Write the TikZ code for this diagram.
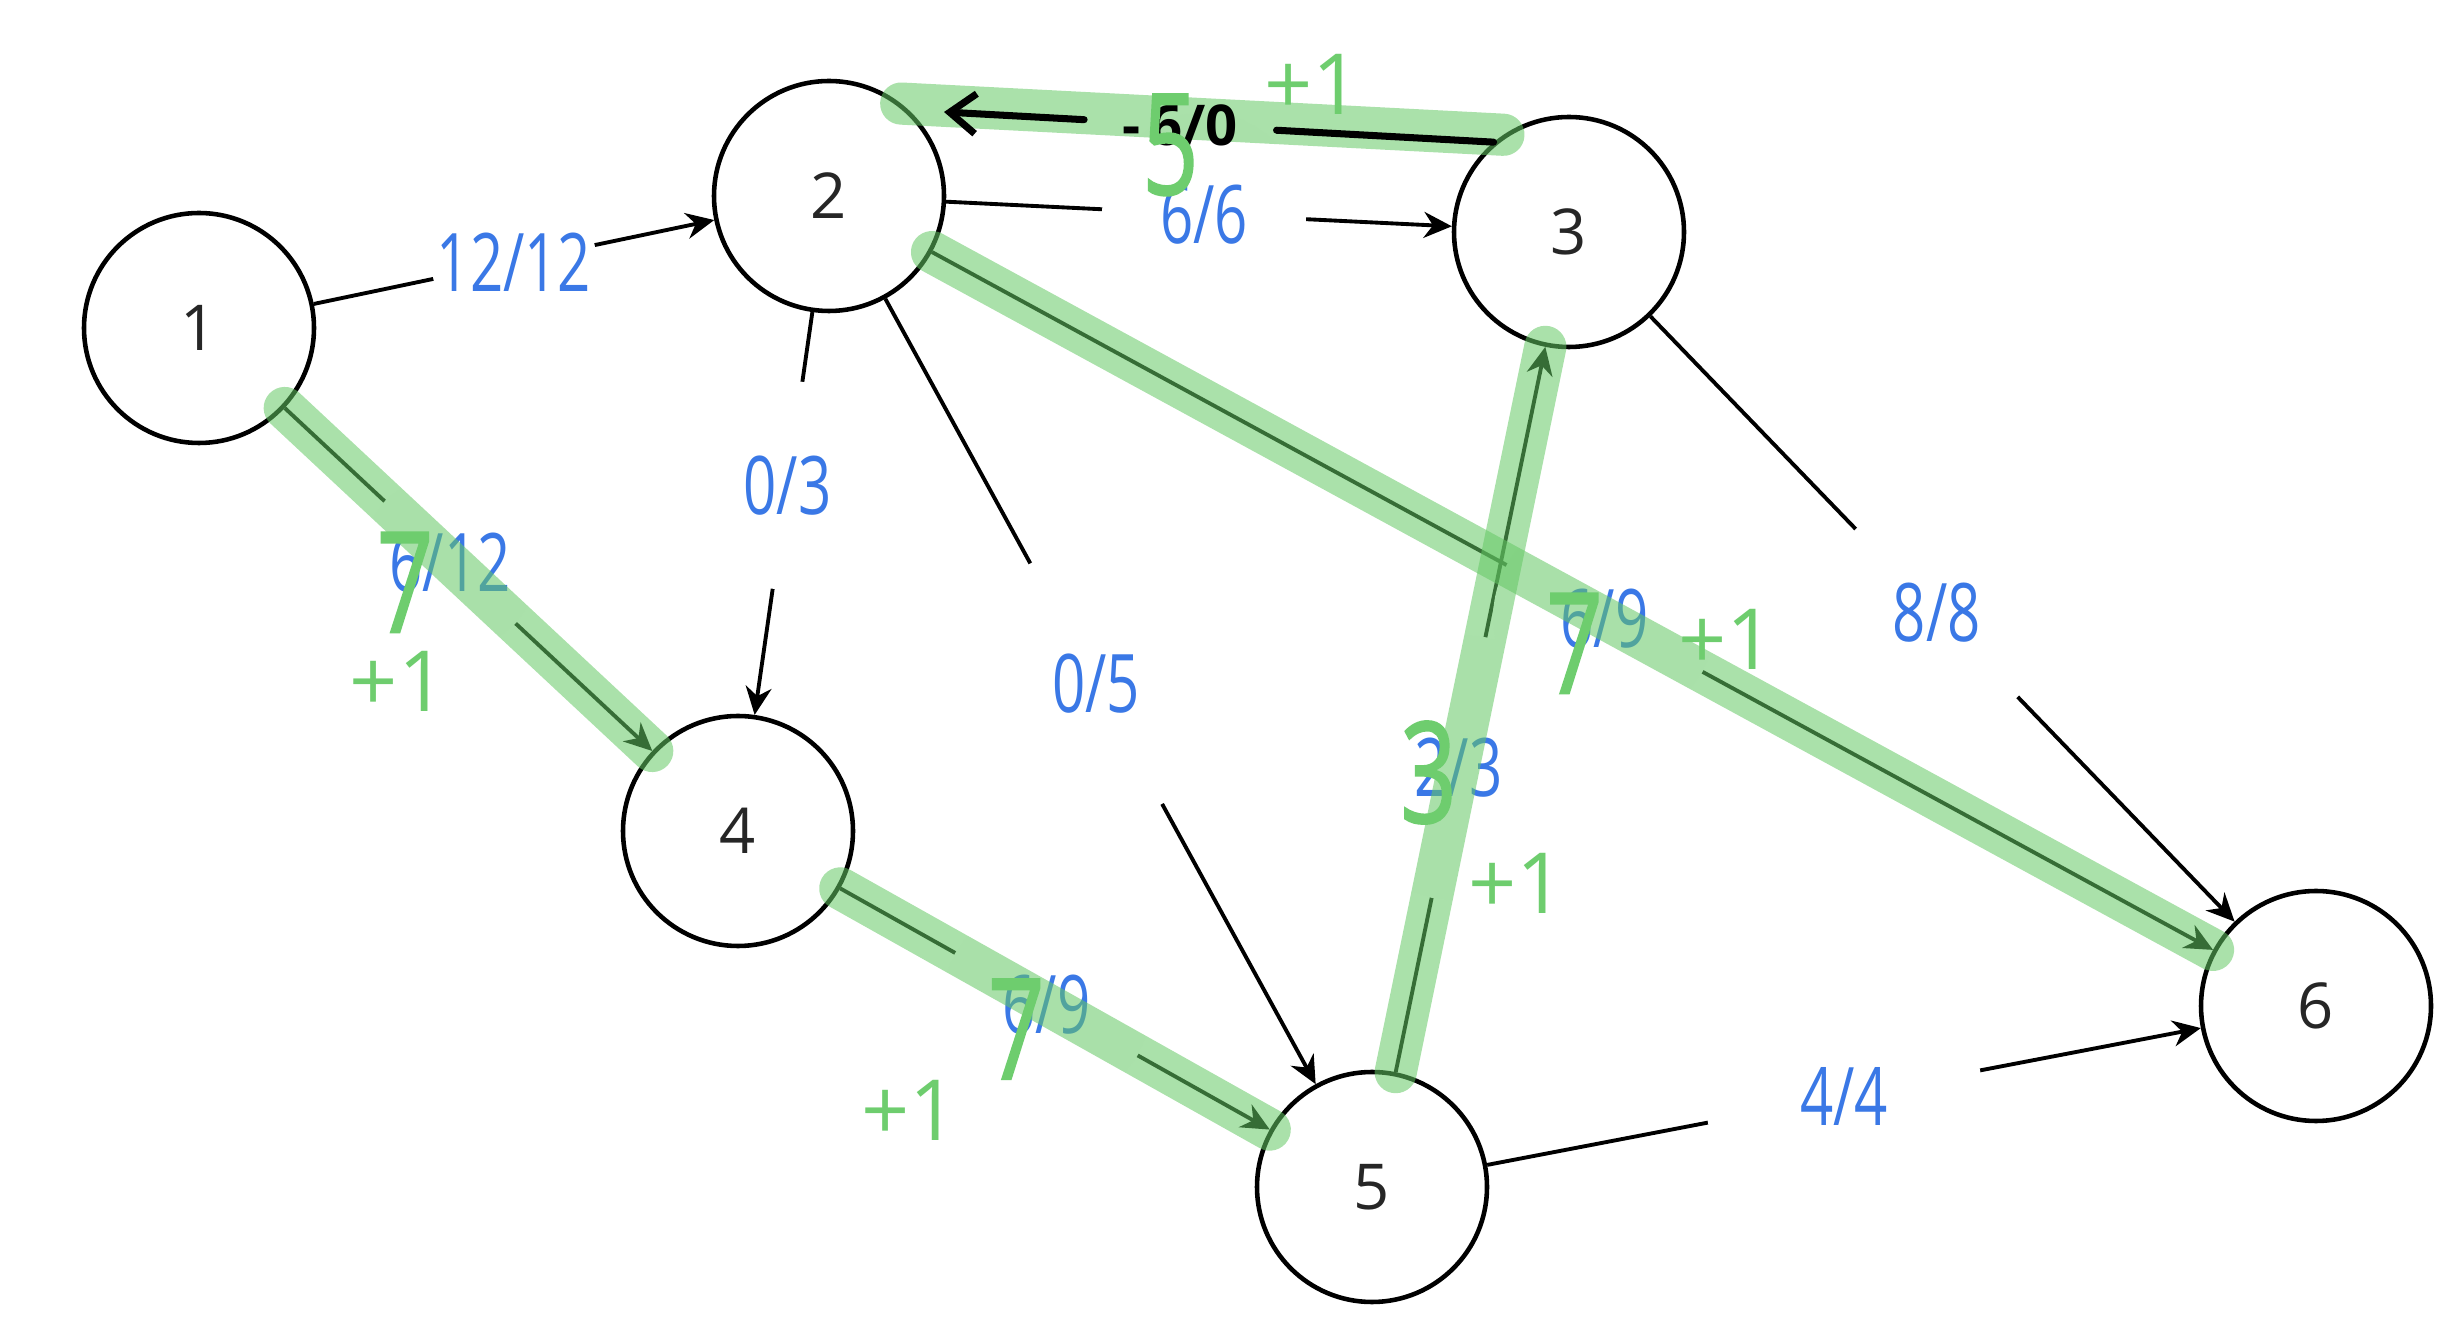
\documentclass[tikz,border=0pt]{standalone}
\usepackage{fontspec}
\setmainfont{Open Sans}
\newfontfamily\handfont[FakeStretch=0.72]{Open Sans}
\newfontfamily\bigfont[FakeStretch=0.7, FakeBold=1.2]{Open Sans}
\usetikzlibrary{arrows.meta,positioning}
\definecolor{inkblue}{RGB}{58,120,230}
\definecolor{inkgreen}{RGB}{110,205,110}
\definecolor{hlgreen}{RGB}{100,200,100}

\begin{document}
\begin{tikzpicture}[
  vert/.style={draw, circle, line width=1.3pt, minimum size=2.3cm, inner sep=0pt,
    text=black!85, font=\fontsize{18}{20}\selectfont},
  flowlbl/.style={circle, fill=white, inner sep=0pt, minimum size=#1,
    text=inkblue, font=\handfont\fontsize{23}{24}\selectfont},
  link/.style={->, line width=1.1pt},
  aug/.style={draw=hlgreen, opacity=0.55, line width=12pt, line cap=round},
  resid/.style={line width=2pt, line cap=round},
  revlbl/.style={inner sep=0pt, minimum width=1.91cm, minimum height=5mm,
    font=\bfseries\fontsize{16}{18}\selectfont},
  newval/.style={inner sep=0pt, text=inkgreen, font=\bigfont\fontsize{40}{40}\selectfont},
  gain/.style={inner sep=0pt, text=inkgreen, font=\fontsize{24}{24}\selectfont},
  >={Stealth[length=2.8mm, width=2.6mm]}]
\useasboundingbox (0,0) rectangle (24.62,-13.26);

% vertices
\node[vert] (n1) at (1.99,-3.28) {1};
\node[vert] (n2) at (8.29,-1.96) {2};
\node[vert] (n3) at (15.69,-2.32) {3};
\node[vert] (n4) at (7.38,-8.31) {4};
\node[vert] (n5) at (13.72,-11.87) {5};
\node[vert] (n6) at (23.16,-10.06) {6};

% edges with flow/capacity
\draw[link] (n1) -- node[flowlbl=1.53cm, pos=0.5] (f12) {12/12} (n2);
\draw[link] (n2) -- node[flowlbl=2.04cm, pos=0.51] (f23) {6/6} (n3);
\draw[link] (n2) -- node[flowlbl=2.09cm, pos=0.43] (f24) {0/3} (n4);
\draw[link] (n2) -- node[flowlbl=2.74cm, pos=0.49] (f25) {0/5} (n5);
\draw[link] (n3) -- node[flowlbl=2.33cm, pos=0.49] (f36) {8/8} (n6);
\draw[link] (n5) -- node[flowlbl=2.77cm, pos=0.5] (f56) {4/4} (n6);
\draw[link] (n1) -- node[flowlbl=1.79cm, pos=0.45] (f14) {6/12} (n4);
\draw[link] (n4) -- node[flowlbl=2.09cm, pos=0.48] (f45) {6/9} (n5);
\draw[link] (n5) -- node[flowlbl=2.66cm, pos=0.42] (f53) {2/3} (n3);
\draw[link] (n2) -- node[flowlbl=2.23cm, pos=0.525] (f26) {6/9} (n6);

% augmenting path
\draw[aug] (n1) -- (n4);
\draw[aug] (n4) -- (n5);
\draw[aug] (n5) -- (n3);
\draw[aug] (n3.124) -- (n2.52);
\draw[aug] (n2) -- (n6);

% residual edge 3 -> 2
\coordinate (revtip) at (9.44,-1.12);
\path (n3.130) -- node[pos=0.57, revlbl] (rv) {-\,6/0} (revtip);
\draw[resid] (n3.130) -- (rv);
\draw[resid, -{Straight Barb[length=2.6mm, width=4mm]}] (rv) -- (revtip);

% corrections
\node[newval] (g32) at ([xshift=-1mm, yshift=-2mm]rv) {5};
\node[gain] (p32) at ([xshift=13.2mm, yshift=4.1mm]rv) {+1};
\node[newval] (g14) at ([xshift=-4.5mm, yshift=-2mm]f14) {7};
\node[gain] (p14) at ([xshift=-5.2mm, yshift=-11.9mm]f14) {+1};
\node[newval] (g45) at ([xshift=-3mm, yshift=-2.5mm]f45) {7};
\node[gain] (p45) at ([xshift=-13.7mm, yshift=-10.6mm]f45) {+1};
\node[newval] (g53) at ([xshift=-3mm, yshift=-0.5mm]f53) {3};
\node[gain] (p53) at ([xshift=5.8mm, yshift=-11.6mm]f53) {+1};
\node[newval] (g26) at ([xshift=-3mm, yshift=-2.5mm]f26) {7};
\node[gain] (p26) at ([xshift=12.2mm, yshift=-2.1mm]f26) {+1};
\end{tikzpicture}
\end{document}
